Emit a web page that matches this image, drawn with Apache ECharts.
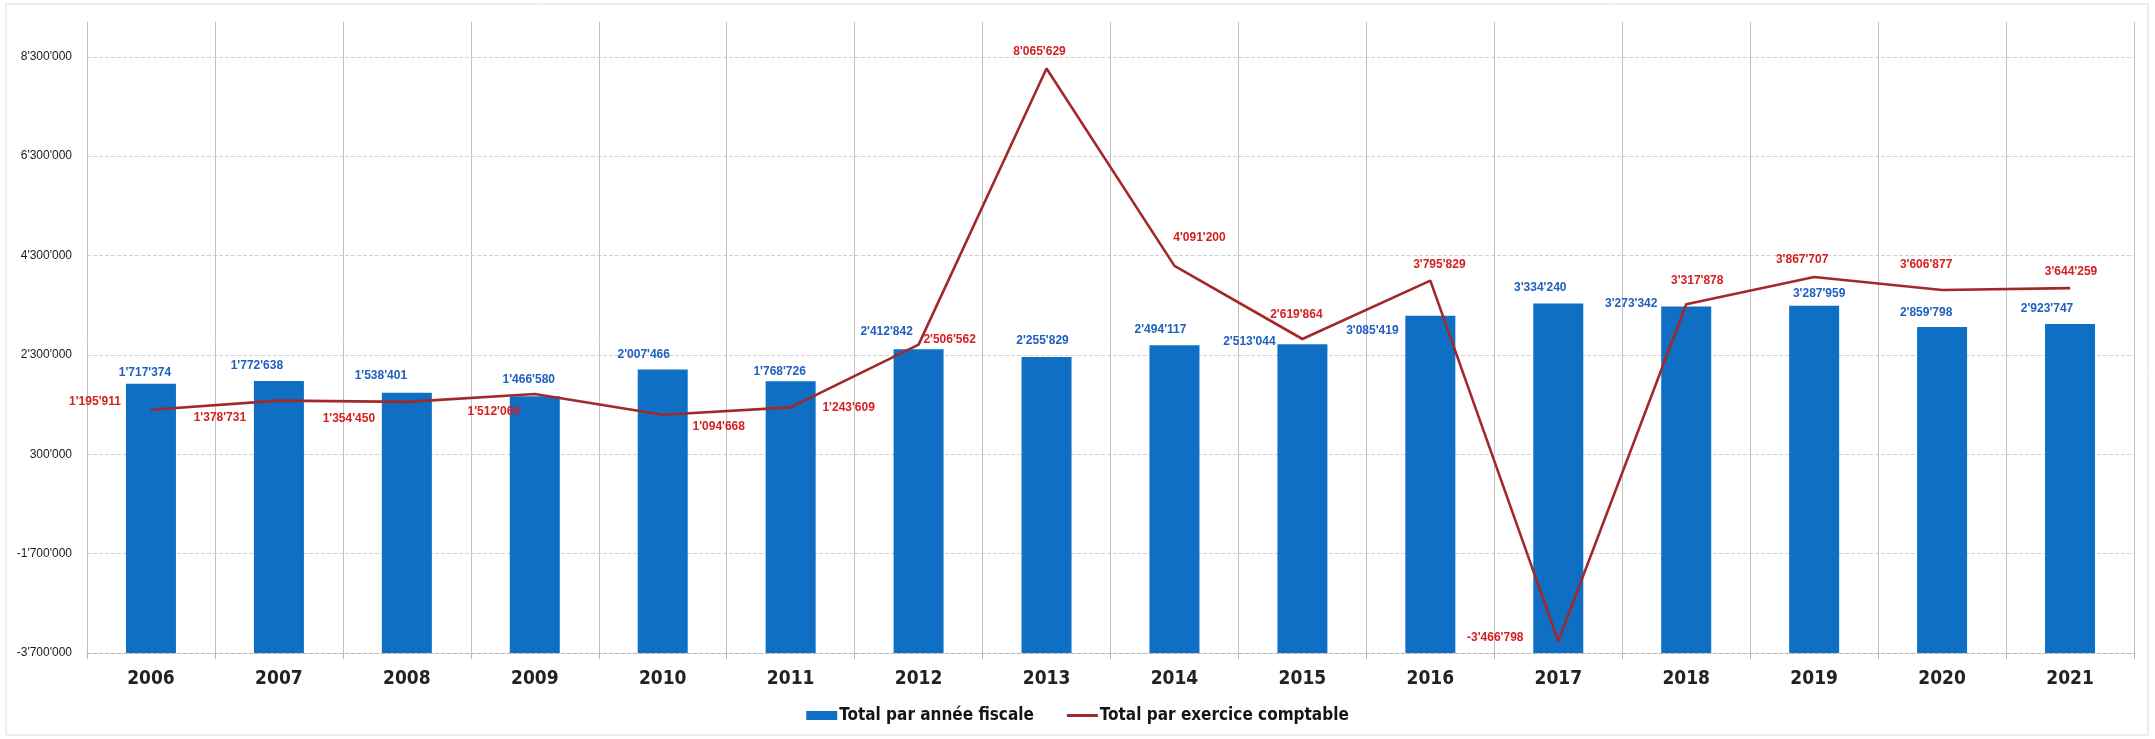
<!DOCTYPE html>
<html>
<head>
<meta charset="utf-8">
<script src="https://cdn.jsdelivr.net/npm/echarts@6/dist/echarts.min.js"></script>
<style>
html,body{margin:0;padding:0;background:#fff;}
#chart{width:2155px;height:739px;}
</style>
</head>
<body>
<div id="chart"></div>
<script>
// ---- data ----
const years = ['2006','2007','2008','2009','2010','2011','2012','2013','2014','2015','2016','2017','2018','2019','2020','2021'];
const fiscalTotals = [1717374, 1772638, 1538401, 1466580, 2007466, 1768726, 2412842, 2255829, 2494117, 2513044, 3085419, 3334240, 3273342, 3287959, 2859798, 2923747];
const accountingTotals = [1195911, 1378731, 1354450, 1512069, 1094668, 1243609, 2506562, 8065629, 4091200, 2619864, 3795829, -3466798, 3317878, 3867707, 3606877, 3644259];
const seriesNames = ['Total par année fiscale', 'Total par exercice comptable'];
const axisMin = -3700000;
const axisMax = 9000000;
const axisInterval = 2000000;
const lastTickLabel = 8300000;

// ---- label placement (style only) ----
const barLabelOffsets = [[-6,-5],[-22,-9],[-26,-11],[-6,-11],[-19,-9],[-11,-4],[-32,-12],[-4,-10],[-14,-10],[-53,3],[-58,21],[-18,-10],[-55,3],[5,-6],[-16,-8],[-23,-9]];
const lineLabelOffsets = [[-56,-8],[-59,17],[-58,17],[-41,18],[56,12],[58,0],[31,-5],[-7,-17],[25,-28],[-6,-24],[9,-16],[-63,-4],[11,-24],[-12,-17],[-16,-25],[1,-16]];

function fmt(v) {
  const s = Math.abs(Math.round(v)).toString().replace(/\B(?=(\d{3})+(?!\d))/g, "'");
  return (v < 0 ? '-' : '') + s;
}

const NARROW = "'Liberation Sans Narrow', 'Arial Narrow', 'DejaVu Sans Condensed', 'Liberation Sans', sans-serif";
const SANS = "'Liberation Sans', Arial, sans-serif";

const chart = echarts.init(document.getElementById('chart'), null, {renderer: 'canvas'});

const option = {
  backgroundColor: '#ffffff',
  animation: false,
  graphic: [{
    type: 'rect',
    shape: {x: 6, y: 4, width: 2142, height: 731},
    style: {fill: 'none', stroke: '#dcdcdc', lineWidth: 1},
    silent: true, z: -10
  }],
  grid: {left: 87, right: 21, top: 22, bottom: 86},
  legend: {
    data: [
      {name: seriesNames[0], icon: 'rect'},
      {name: seriesNames[1], icon: 'path://M0,0 L31,0 L31,3 L0,3 Z'}
    ],
    left: 'center',
    top: 702,
    itemWidth: 31,
    itemHeight: 9,
    itemGap: 33,
    textStyle: {fontFamily: NARROW, fontWeight: 'bold', fontSize: 17, color: '#151515', padding: [0,0,0,-3]}
  },
  xAxis: {
    type: 'category',
    data: years,
    boundaryGap: true,
    axisLine: {show: true, onZero: false, lineStyle: {color: '#b8b8b8', width: 1, type: 'dashed'}},
    axisTick: {show: true, length: 6, lineStyle: {color: '#b8b8b8'}},
    splitLine: {show: true, lineStyle: {color: '#c2c2c2', width: 1}},
    axisLabel: {fontFamily: NARROW, fontWeight: 'bold', fontSize: 19, color: '#222', margin: 17}
  },
  yAxis: {
    type: 'value',
    min: axisMin,
    max: axisMax,
    interval: axisInterval,
    startValue: axisMin,
    axisLine: {show: false},
    axisTick: {show: false},
    splitLine: {show: true, showMaxLine: false, lineStyle: {color: '#d2d2d2', width: 1, type: 'dashed'}},
    axisLabel: {
      showMaxLabel: false,
      fontFamily: SANS, fontSize: 12, color: '#1a1a1a', margin: 15,
      formatter: v => (v > lastTickLabel ? '' : fmt(v))
    }
  },
  series: [
    {
      name: seriesNames[0],
      type: 'bar',
      barWidth: 50,
      itemStyle: {color: '#0f6fc4'},
      label: {
        show: true, position: 'top', distance: 0,
        fontFamily: SANS, fontWeight: 'bold', fontSize: 12, color: '#1f5fbf',
        formatter: p => fmt(p.value)
      },
      data: fiscalTotals.map((v, i) => ({value: v, label: {offset: barLabelOffsets[i]}})),
      z: 2
    },
    {
      name: seriesNames[1],
      type: 'line',
      symbol: 'circle',
      symbolSize: 1,
      showSymbol: true,
      itemStyle: {color: '#a3282a'},
      lineStyle: {color: '#a3282a', width: 2.6},
      label: {
        show: true, position: 'inside', align: 'center', verticalAlign: 'middle',
        fontFamily: SANS, fontWeight: 'bold', fontSize: 12, color: '#d42020',
        formatter: p => fmt(p.value)
      },
      data: accountingTotals.map((v, i) => ({value: v, label: {offset: lineLabelOffsets[i]}})),
      z: 5
    }
  ]
};

chart.setOption(option);
</script>
</body>
</html>
